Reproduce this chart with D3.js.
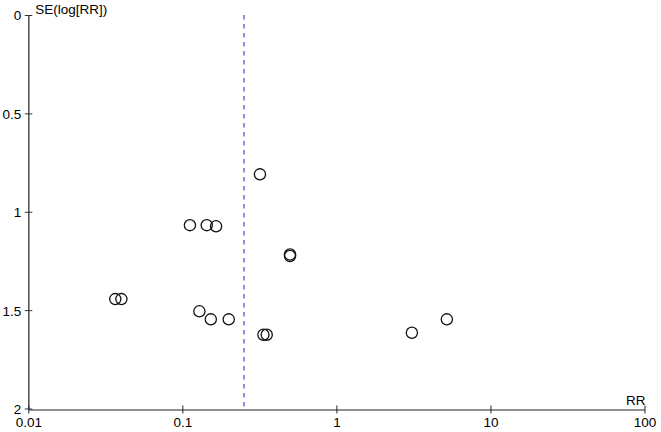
<!DOCTYPE html>
<html>
<head>
<meta charset="utf-8">
<script src="https://cdn.jsdelivr.net/npm/d3@7"></script>
<style>
  html, body { margin: 0; padding: 0; background: #fff; }
  svg { display: block; font-family: "Liberation Sans", Arial, sans-serif; }
</style>
</head>
<body>
<svg id="chart" width="661" height="432"></svg>
<script>
// Data: relative risk (RR) and standard error of log(RR) for each study
const rrValues = [0.319, 0.112, 0.144, 0.1655, 0.500, 0.500, 0.0367, 0.0402, 0.129, 0.153, 0.200, 0.336, 0.353, 3.09, 5.21];
const seValues = [0.810, 1.068, 1.068, 1.074, 1.217, 1.225, 1.444, 1.444, 1.506, 1.547, 1.547, 1.625, 1.625, 1.615, 1.547];
const pooledRR = 0.2515;
const xTicks = [0.01, 0.1, 1, 10, 100];
const xTickLabels = ["0.01", "0.1", "1", "10", "100"];
const yTicks = [0, 0.5, 1, 1.5, 2];
const yTickLabels = ["0", "0.5", "1", "1.5", "2"];
const xTitle = "RR";
const yTitle = "SE(log[RR])";

const svg = d3.select("#chart");
const mLeft = 28.3, mRight = 644.5, mTop = 15, mBottom = 408.5;

const x = d3.scaleLog().domain([0.01, 100]).range([mLeft, mRight]);
const y = d3.scaleLinear().domain([0, 2]).range([mTop, mBottom]);

// Y axis
const yAxis = svg.append("g")
  .attr("transform", `translate(${mLeft},0)`)
  .call(d3.axisLeft(y).tickValues(yTicks).tickFormat((d, i) => yTickLabels[i]).tickSizeOuter(0));
yAxis.select(".domain").attr("stroke", "#555").attr("stroke-width", 1.6);
yAxis.selectAll(".tick line").attr("x1", -3.5).attr("x2", 4).attr("stroke", "#333").attr("stroke-width", 1);
yAxis.selectAll(".tick text").attr("x", -7).attr("dy", "0.36em")
  .attr("font-size", "13.5px").attr("fill", "#000")
  .style("font-family", "'Liberation Sans', Arial, sans-serif");

// X axis
const xAxis = svg.append("g")
  .attr("transform", `translate(0,${mBottom + 1})`)
  .call(d3.axisBottom(x).tickValues(xTicks).tickFormat((d, i) => xTickLabels[i]).tickSizeOuter(0));
xAxis.select(".domain").attr("stroke", "#222").attr("stroke-width", 1);
xAxis.selectAll(".tick line").attr("y1", -4).attr("y2", 4).attr("stroke", "#222");
xAxis.selectAll(".tick text").attr("y", 8).attr("dy", "0.71em")
  .attr("font-size", "13.5px").attr("fill", "#000")
  .style("font-family", "'Liberation Sans', Arial, sans-serif");

// Axis titles
svg.append("text").attr("x", mLeft + 7).attr("y", mTop - 1)
  .attr("font-size", "13.5px").attr("fill", "#000").text(yTitle);
svg.append("text").attr("x", mRight + 1).attr("y", mBottom - 4)
  .attr("text-anchor", "end")
  .attr("font-size", "13.5px").attr("fill", "#000").text(xTitle);

// Pooled estimate dashed line
svg.append("line")
  .attr("x1", x(pooledRR)).attr("x2", x(pooledRR))
  .attr("y1", y(0)).attr("y2", y(2))
  .attr("stroke", "#5555c8").attr("stroke-width", 1.3)
  .attr("stroke-dasharray", "4.5,4.5");

// Study points
const data = rrValues.map((rr, i) => ({ rr, se: seValues[i] }));
svg.append("g").selectAll("circle").data(data).join("circle")
  .attr("cx", d => x(d.rr))
  .attr("cy", d => y(d.se))
  .attr("r", 5.6)
  .attr("fill", "none")
  .attr("stroke", "#111")
  .attr("stroke-width", 1.3);
</script>
</body>
</html>
